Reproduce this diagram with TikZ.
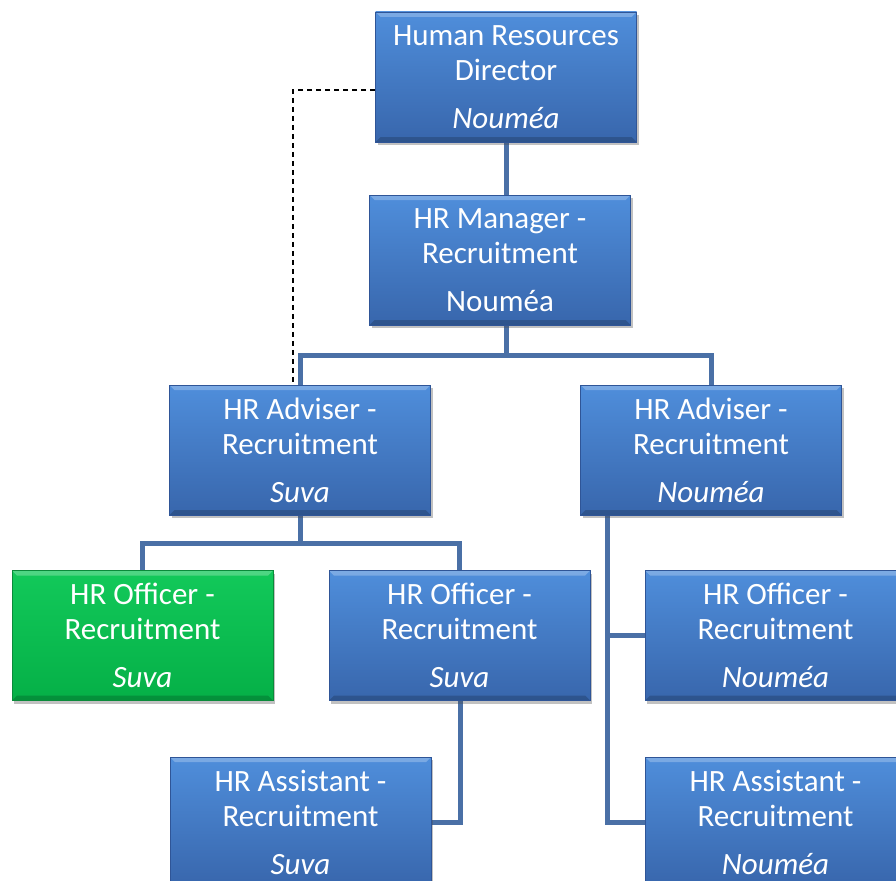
\documentclass[tikz,border=0pt]{standalone}
\usepackage{fontspec}
\setmainfont{Carlito}
\usetikzlibrary{shadows,backgrounds}
\definecolor{btop}{HTML}{4F8EDB}
\definecolor{bbot}{HTML}{3866AC}
\definecolor{bedge}{HTML}{2F5597}
\definecolor{gtop}{HTML}{12C95A}
\definecolor{gbot}{HTML}{05B047}
\definecolor{gedge}{HTML}{0A8A3A}
\definecolor{conn}{HTML}{4A70A6}
\tikzset{
  box/.style={rectangle, minimum width=261pt, minimum height=130pt, inner sep=0pt,
    top color=btop, bottom color=bbot, draw=bedge, line width=0.6pt,
    text=white, align=center, font=\fontsize{31}{35}\selectfont,
    drop shadow={shadow xshift=2pt, shadow yshift=-3pt, opacity=0.35, fill=black!70},
    path picture={
      \fill[white, opacity=0.25] (path picture bounding box.north west) -- (path picture bounding box.north east) -- ([xshift=-5pt,yshift=-5pt]path picture bounding box.north east) -- ([xshift=5pt,yshift=-5pt]path picture bounding box.north west) -- cycle;
      \fill[black, opacity=0.18] (path picture bounding box.south west) -- (path picture bounding box.south east) -- ([xshift=-5pt,yshift=5pt]path picture bounding box.south east) -- ([xshift=5pt,yshift=5pt]path picture bounding box.south west) -- cycle;
    }},
  gbox/.style={box, top color=gtop, bottom color=gbot, draw=gedge},
  link/.style={draw=conn, line width=5pt, line cap=rect},
  dotlink/.style={draw=black, line width=1.4pt, dash pattern=on 5pt off 4pt}
}
\begin{document}
\begin{tikzpicture}[x=1pt,y=-1pt]
\useasboundingbox (0,0) rectangle (896,880);
\coordinate (d1) at (506,355);
\coordinate (a1) at (300,543);
\coordinate (vx) at (607,515);
\coordinate (o1) at (460,822);
\coordinate (k1) at (293,90);

\node[box] (dir) at (506,77) {Human Resources\\Director\\[13pt]\textit{Nouméa}};
\node[box] (mgr) at (500,260) {HR Manager -\\Recruitment\\[13pt]Nouméa};
\node[box] (advS) at (300,450) {HR Adviser -\\Recruitment\\[13pt]\textit{Suva}};
\node[box] (advN) at (711,450) {HR Adviser -\\Recruitment\\[13pt]\textit{Nouméa}};
\node[gbox] (offG) at (142.5,635.5) {HR Officer -\\Recruitment\\[13pt]\textit{Suva}};
\node[box] (offS) at (459.5,635.5) {HR Officer -\\Recruitment\\[13pt]\textit{Suva}};
\node[box] (offN) at (775.5,635.5) {HR Officer -\\Recruitment\\[13pt]\textit{Nouméa}};
\node[box] (asS) at (300.5,822) {HR Assistant -\\Recruitment\\[13pt]\textit{Suva}};
\node[box] (asN) at (775.5,822) {HR Assistant -\\Recruitment\\[13pt]\textit{Nouméa}};

\begin{scope}[on background layer]
\draw[link] (dir.south -| d1) -- (mgr.north -| d1);
\draw[link] (mgr.south -| d1) -- (d1) -| (advS.north);
\draw[link] (d1) -| (advN.north);
\draw[link] (advS.south) -- (a1) -| (offG.north);
\draw[link] (a1) -| (offS.north);
\draw[link] (offS.south -| o1) -- (o1) -- (asS.east |- o1);
\draw[link] (vx) |- (asN.west);
\draw[link] (vx |- offN.west) -- (offN.west);
\draw[dotlink] (dir.west |- k1) -- (k1) -- (k1 |- advS.north);
\end{scope}
\end{tikzpicture}
\end{document}
